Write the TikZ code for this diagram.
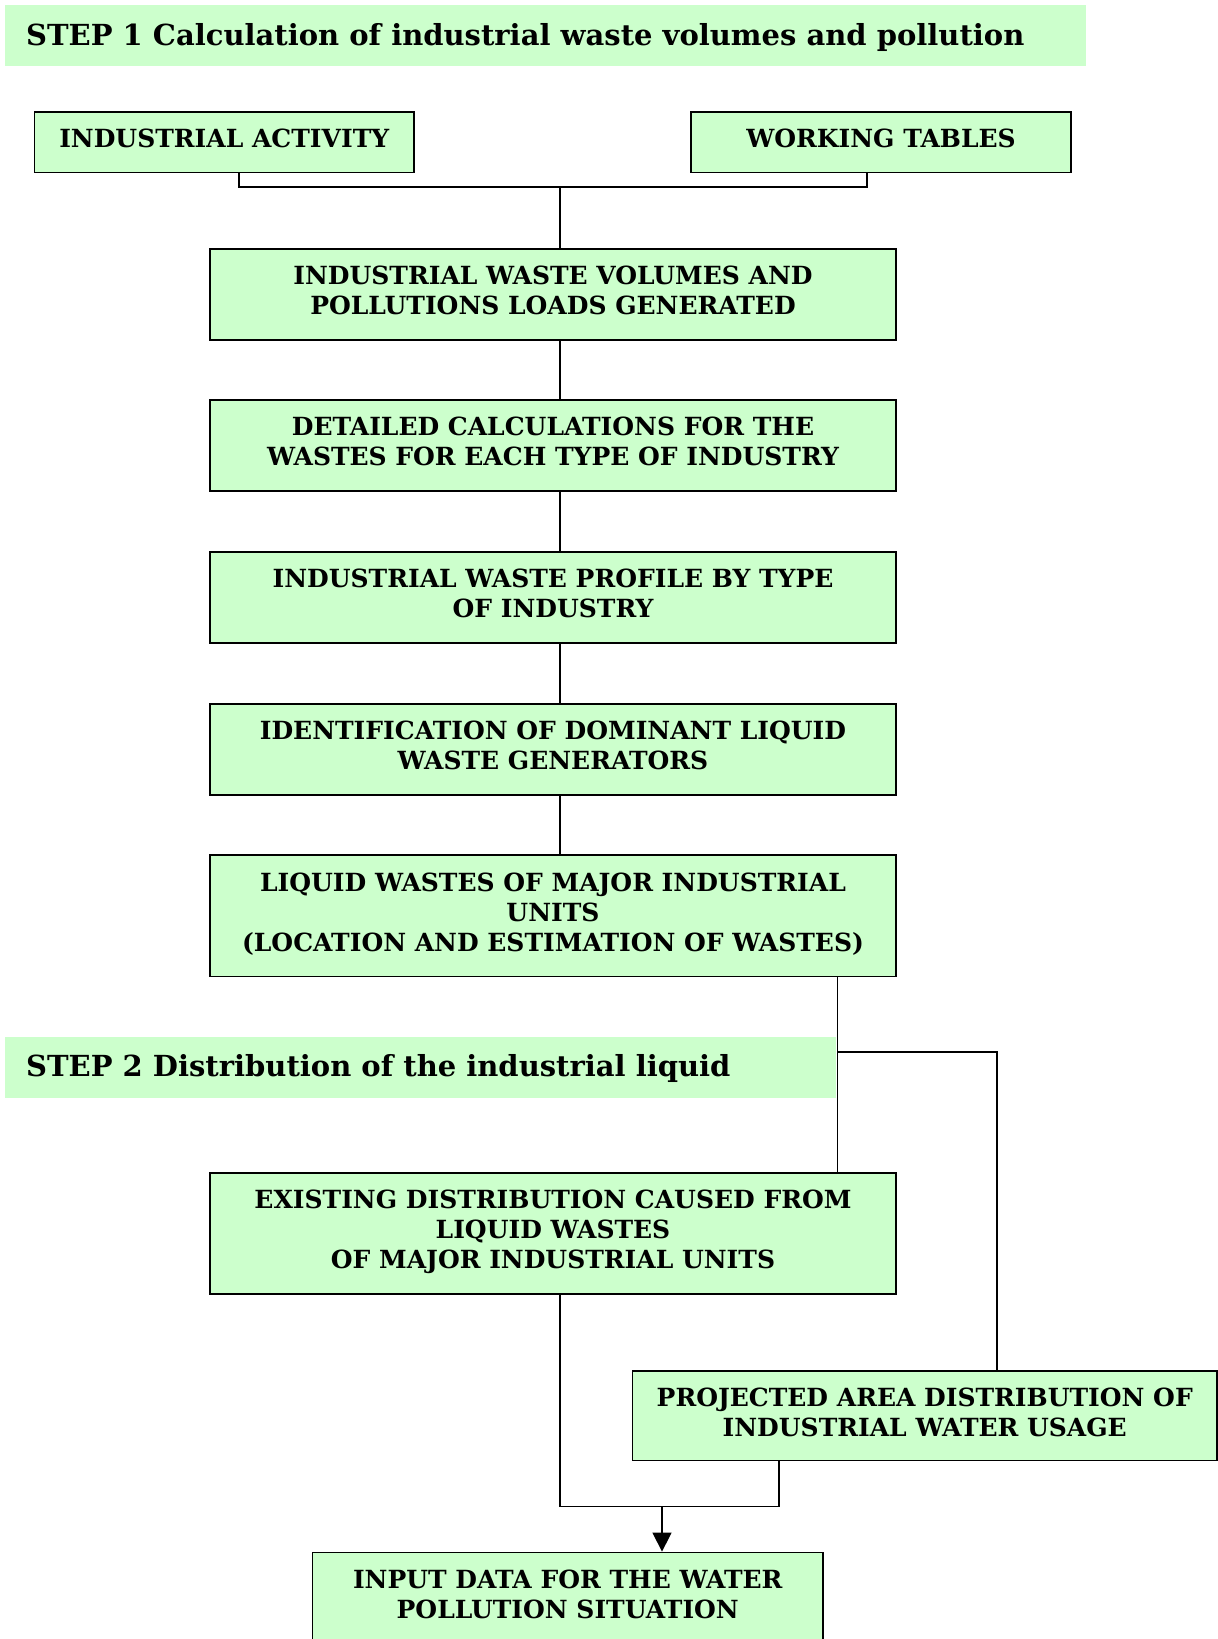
\documentclass[tikz,border=0pt]{standalone}
\usepackage{fontspec}
\setmainfont{DejaVu Serif}
\usetikzlibrary{arrows.meta}
\definecolor{boxgreen}{HTML}{CCFFCC}
\begin{document}
\begin{tikzpicture}[x=1pt,y=-1pt,
  stepbox/.style={draw=black,line width=1.8pt,fill=boxgreen,align=center,
    font=\fontsize{25}{30}\selectfont\bfseries,inner sep=0pt,anchor=center,
    text depth=8pt},
  banner/.style={inner sep=0pt,anchor=west,
    font=\fontsize{29}{34}\selectfont\bfseries},
  conn/.style={draw=black,line width=1.3pt}]
\useasboundingbox[fill=white] (0,0) rectangle (1218,1639);

% section banners
\fill[boxgreen] (5,5) rectangle (1086,66);
\node[banner] (step1) at (26,37) {STEP 1 Calculation of industrial waste volumes and pollution};
\fill[boxgreen] (5,1037) rectangle (836,1098);
\node[banner] (step2) at (26,1068) {STEP 2 Distribution of the industrial liquid};

% boxes
\node[stepbox,minimum width=379.5pt,minimum height=60.5pt] (ia) at (224.25,142.25) {INDUSTRIAL ACTIVITY};
\node[stepbox,minimum width=380pt,minimum height=60.5pt] (wt) at (881,142.25) {WORKING TABLES};
\node[stepbox,minimum width=686pt,minimum height=91pt] (b1) at (553,294.5) {INDUSTRIAL WASTE VOLUMES AND\\POLLUTIONS LOADS GENERATED};
\node[stepbox,minimum width=686pt,minimum height=91pt] (b2) at (553,445.5) {DETAILED CALCULATIONS FOR THE\\WASTES FOR EACH TYPE OF INDUSTRY};
\node[stepbox,minimum width=686pt,minimum height=91pt] (b3) at (553,597.5) {INDUSTRIAL WASTE PROFILE BY TYPE\\OF INDUSTRY};
\node[stepbox,minimum width=686pt,minimum height=91pt] (b4) at (553,749.5) {IDENTIFICATION OF DOMINANT LIQUID\\WASTE GENERATORS};
\node[stepbox,minimum width=686pt,minimum height=121.5pt] (b5) at (553,915.75) {LIQUID WASTES OF MAJOR INDUSTRIAL\\UNITS\\(LOCATION AND ESTIMATION OF WASTES)};
\node[stepbox,minimum width=686pt,minimum height=121pt] (b6) at (553,1233.5) {EXISTING DISTRIBUTION CAUSED FROM\\LIQUID WASTES\\OF MAJOR INDUSTRIAL UNITS};
\node[stepbox,minimum width=584.5pt,minimum height=89.5pt] (proj) at (924.75,1415.75) {PROJECTED AREA DISTRIBUTION OF\\INDUSTRIAL WATER USAGE};
\node[stepbox,minimum width=510.5pt,minimum height=91pt] (inp) at (567.75,1598) {INPUT DATA FOR THE WATER\\POLLUTION SITUATION};

% junction points
\coordinate (ja) at (239,187);
\coordinate (jb) at (867,187);
\coordinate (jm) at (560,187);
\coordinate (sx) at (837.5,1052);
\coordinate (sr) at (997,1052);
\coordinate (bl) at (560,1506.5);
\coordinate (br) at (779,1506.5);
\coordinate (bm) at (662,1506.5);

% connectors
\draw[conn] (ia.south -| ja) -- (ja) -- (jb) -- (wt.south -| jb);
\draw[conn] (jm) -- (b1.north -| jm);
\draw[conn] (b1.south -| jm) -- (b2.north -| jm);
\draw[conn] (b2.south -| jm) -- (b3.north -| jm);
\draw[conn] (b3.south -| jm) -- (b4.north -| jm);
\draw[conn] (b4.south -| jm) -- (b5.north -| jm);
\draw[conn] (b5.south -| sx) -- (b6.north -| sx);
\draw[conn] (sx) -- (sr) -- (proj.north -| sr);
\draw[conn] (b6.south -| bl) -- (bl) -- (br) -- (proj.south -| br);
\draw[conn,-{Triangle[width=19pt,length=19pt]}] (bm) -- (inp.north -| bm);
\end{tikzpicture}
\end{document}
